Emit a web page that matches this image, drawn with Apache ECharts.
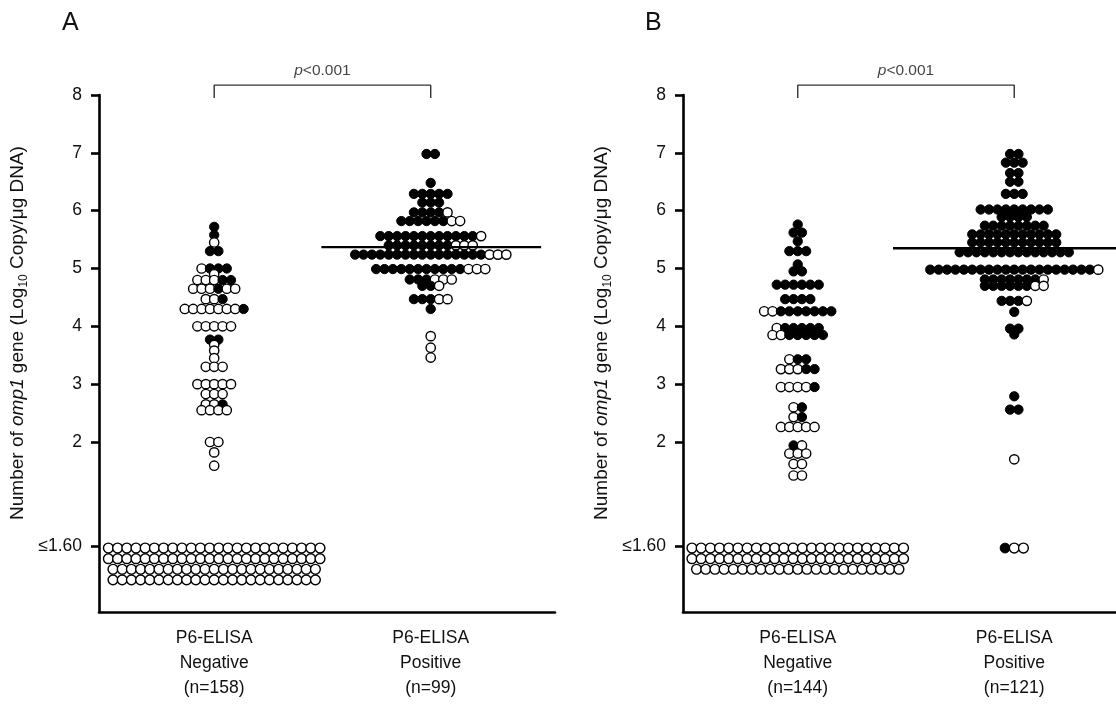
<!DOCTYPE html>
<html><head><meta charset="utf-8">
<script src="https://cdn.jsdelivr.net/npm/echarts@6/dist/echarts.min.js"></script>
<style>html,body{margin:0;padding:0;background:#fff}#c{width:1116px;height:704px}</style>
</head><body><div id="c"></div>
<script>
// ---------------- data ----------------
const categoryNames = ['P6-ELISA\nNegative', 'P6-ELISA\nPositive'];
const groupSizesA = [158, 99];
const groupSizesB = [144, 121];
const yTicks = [2, 3, 4, 5, 6, 7, 8];
const lodLabel = '≤1.60';
const panelLetters = ['A', 'B'];

// each row: a log10 value and the dots at that value, left to right (x = filled, o = open)
const aNegValues   = [5.72, 5.58, 5.45, 5.30, 5.00, 4.90, 4.80, 4.65, 4.47, 4.30, 4.00, 3.77, 3.68, 3.58, 3.45, 3.30, 3.00, 2.83, 2.65, 2.55, 2.00, 1.82, 1.59];
const aNegPatterns = ['x', 'x', 'o', 'xx', 'oxxx', 'o', 'oooxx', 'oooxoo', 'oox', 'ooooooox', 'ooooo', 'xx', 'o', 'o', 'o', 'ooo', 'ooooo', 'ooo', 'oox', 'oooo', 'oo', 'o', 'o'];
const aNegLodRows  = [24, 24, 23, 23];   // open circles per row at ≤1.60

const aPosValues   = [6.98, 6.48, 6.29, 6.14, 5.97, 5.82, 5.56, 5.40, 5.24, 4.99, 4.81, 4.70, 4.47, 4.30, 3.83, 3.63, 3.46];
const aPosPatterns = ['xx', 'x', 'xxxxx', 'xxx', 'xxxxo', 'xxxxxxoo', 'xxxxxxxxxxxxo', 'xxxxxxxxooo', 'xxxxxxxxxxxxxxxxooo', 'xxxxxxxxxxxooo', 'xxxooo', 'xxo', 'xxxoo', 'x', 'o', 'o', 'o'];
const aPosLodRows  = [];
const aPosMean = 5.37;

const bNegValues   = [5.76, 5.62, 5.47, 5.30, 5.07, 4.95, 4.72, 4.47, 4.26, 3.97, 3.85, 3.43, 3.26, 2.95, 2.60, 2.43, 2.26, 1.94, 1.80, 1.62, 1.42];
const bNegPatterns = ['x', 'xx', 'x', 'xxx', 'x', 'xx', 'xxxxxx', 'xxxx', 'ooxxxxxxx', 'oxxxxx', 'ooxxxxx', 'oxx', 'oooxx', 'oooox', 'ox', 'ox', 'ooooo', 'xo', 'ooo', 'oo', 'oo'];
const bNegLodRows  = [24, 24, 23];

const bPosValues   = [6.98, 6.83, 6.65, 6.50, 6.29, 6.02, 5.89, 5.74, 5.59, 5.45, 5.28, 4.98, 4.81, 4.70, 4.44, 4.25, 3.96, 3.86, 2.79, 2.56, 1.70];
const bPosPatterns = ['xx', 'xxx', 'xx', 'xx', 'xxx', 'xxxxxxxxx', 'xxxx', 'xxxxxxxx', 'xxxxxxxxxxx', 'xxxxxxxxxxx', 'xxxxxxxxxxxxxx', 'xxxxxxxxxxxxxxxxxxxxo', 'xxxxxxxo', 'xxxxxxoo', 'xxxo', 'x', 'xx', 'x', 'x', 'xx', 'o'];
const bPosLodPatterns = ['xoo'];
const bPosMean = 5.35;

const pValueItalic = 'p';
const pValueRest = '<0.001';

// ---------------- layout / style ----------------
const FONT = '"Liberation Sans", Arial, sans-serif';
const LOD_POS = 0.2;          // axis position used for the ≤1.60 band
const Y_MIN = -0.94, Y_MAX = 8;
const DOT = 9.3, DOT_GAP = 8.4;
const LOD_DOT = 9.8, LOD_GAP = 9.2, LOD_ROW = 10.6, LOD_DY = 2;
const BRACKET_Y = 8.17, BRACKET_FOOT = 7.95;

const filledStyle = {color: '#000', borderColor: '#000', borderWidth: 1, opacity: 1};
const openStyle = {color: '#fff', borderColor: '#000', borderWidth: 1.4, opacity: 1};

function rowDots(xPos, values, patterns) {
  const out = [];
  values.forEach((v, i) => {
    const p = patterns[i];
    const n = p.length;
    for (let j = 0; j < n; j++) {
      out.push({
        value: [xPos, v],
        symbolSize: DOT,
        symbolOffset: [(j - (n - 1) / 2) * DOT_GAP, 0],
        itemStyle: p[j] === 'x' ? filledStyle : openStyle
      });
    }
  });
  return out;
}
function lodDots(xPos, rows) {
  const out = [];
  rows.forEach((r, k) => {
    const p = typeof r === 'number' ? 'o'.repeat(r) : r;
    const n = p.length;
    for (let j = 0; j < n; j++) {
      out.push({
        value: [xPos, LOD_POS],
        symbolSize: LOD_DOT,
        symbolOffset: [(j - (n - 1) / 2) * LOD_GAP, LOD_DY + k * LOD_ROW],
        itemStyle: p[j] === 'x' ? filledStyle : openStyle
      });
    }
  });
  return out;
}

function panel(idx, sizes, groups, mean, meanRange) {
  const xAxis = {
    gridIndex: idx, type: 'value', min: idx === 0 ? 0.468 : 0.47, max: idx === 0 ? 2.574 : 2.47,
    splitLine: {show: false},
    axisLine: {show: true, onZero: false, lineStyle: {color: '#000', width: 2.6}},
    axisTick: {show: false},
    axisLabel: {
      customValues: [1, 2], margin: 14, color: '#111', fontSize: 17.5, fontFamily: FONT, lineHeight: 25,
      formatter: v => categoryNames[Math.round(v) - 1] + '\n(n=' + sizes[Math.round(v) - 1] + ')'
    }
  };
  const yAxis = {
    gridIndex: idx, type: 'value', min: Y_MIN, max: Y_MAX,
    splitLine: {show: false},
    axisLine: {show: true, onZero: false, lineStyle: {color: '#000', width: 2.6}},
    axisTick: {show: true, customValues: [LOD_POS].concat(yTicks), length: 8, lineStyle: {color: '#000', width: 2.6}},
    axisLabel: {
      customValues: [LOD_POS].concat(yTicks), margin: 17, color: '#111', fontSize: 17.5, fontFamily: FONT,
      formatter: v => Math.abs(v - LOD_POS) < 1e-6 ? lodLabel : String(v)
    }
  };
  const series = [];
  groups.forEach((g, gi) => {
    series.push({
      type: 'scatter', xAxisIndex: idx, yAxisIndex: idx, symbol: 'circle', z: 3,
      itemStyle: {opacity: 1},
      data: rowDots(gi + 1, g.values, g.patterns).concat(lodDots(gi + 1, g.lod)),
      animation: false
    });
  });
  series.push({
    type: 'line', xAxisIndex: idx, yAxisIndex: idx, symbol: 'none', z: 5, animation: false,
    lineStyle: {color: '#000', width: 2.4},
    data: [[meanRange[0], mean], [meanRange[1], mean]]
  });
  series.push({
    type: 'line', xAxisIndex: idx, yAxisIndex: idx, symbol: 'none', clip: false, z: 5, animation: false,
    lineStyle: {color: '#333', width: 1.4},
    data: [[1, BRACKET_FOOT], [1, BRACKET_Y], [2, BRACKET_Y], [2, BRACKET_FOOT]]
  });
  series.push({
    type: 'scatter', xAxisIndex: idx, yAxisIndex: idx, symbolSize: 0, clip: false, animation: false,
    data: [[1.5, BRACKET_Y]],
    label: {
      show: true, position: 'top', distance: 6,
      formatter: '{i|' + pValueItalic + '}{n|' + pValueRest + '}',
      rich: {
        i: {fontStyle: 'italic', fontSize: 15.5, fontFamily: FONT, color: '#111'},
        n: {fontSize: 15.5, fontFamily: FONT, color: '#111'}
      }
    }
  });
  return {xAxis, yAxis, series};
}

const pA = panel(0, groupSizesA, [
  {values: aNegValues, patterns: aNegPatterns, lod: aNegLodRows},
  {values: aPosValues, patterns: aPosPatterns, lod: aPosLodRows}
], aPosMean, [1.495, 2.51]);
const pB = panel(1, groupSizesB, [
  {values: bNegValues, patterns: bNegPatterns, lod: bNegLodRows},
  {values: bPosValues, patterns: bPosPatterns, lod: bPosLodPatterns}
], bPosMean, [1.44, 2.47]);

const yTitleRich = {
  n: {fontSize: 19, fontFamily: FONT, fill: '#111', lineHeight: 24, verticalAlign: 'middle'},
  i: {fontSize: 19, fontFamily: FONT, fill: '#111', fontStyle: 'italic', lineHeight: 24, verticalAlign: 'middle'},
  s: {fontSize: 12, fontFamily: FONT, fill: '#111', lineHeight: 24, verticalAlign: 'bottom'}
};
const yTitleText = '{n|Number of }{i|omp1}{n| gene (Log}{s|10}{n| Copy/μg DNA)}';

const chart = echarts.init(document.getElementById('c'), null, {renderer: 'canvas'});
chart.setOption({
  backgroundColor: '#fff',
  animation: false,
  grid: [
    {left: 99, top: 95, width: 456, bottom: 92},
    {left: 683, top: 95, right: 0, bottom: 92}
  ],
  xAxis: [pA.xAxis, pB.xAxis],
  yAxis: [pA.yAxis, pB.yAxis],
  series: pA.series.concat(pB.series),
  graphic: [
    {type: 'text', left: 62, top: 11, style: {text: panelLetters[0], fontSize: 25, fontFamily: FONT, fill: '#111'}},
    {type: 'text', left: 645, top: 11, style: {text: panelLetters[1], fontSize: 25, fontFamily: FONT, fill: '#111'}},
    {type: 'text', x: 18, y: 333, rotation: Math.PI / 2,
      style: {text: yTitleText, rich: yTitleRich, align: 'center', verticalAlign: 'middle'}},
    {type: 'text', x: 602, y: 333, rotation: Math.PI / 2,
      style: {text: yTitleText, rich: yTitleRich, align: 'center', verticalAlign: 'middle'}}
  ]
});
</script></body></html>
